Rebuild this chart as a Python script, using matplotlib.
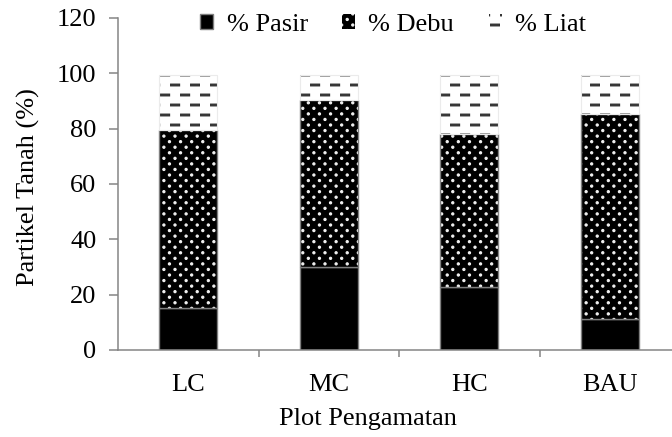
import warnings
import numpy as np
import matplotlib
matplotlib.use("Agg")
import matplotlib.pyplot as plt
from matplotlib import hatch as mhatch
from matplotlib.path import Path

warnings.filterwarnings("ignore")

# Soil particle fractions per observation plot (%)
categories = ["LC", "MC", "HC", "BAU"]
pasir = [15.3, 29.9, 22.7, 11.1]
debu = [64.2, 60.5, 55.4, 74.2]
liat = [19.9, 9.0, 21.3, 14.1]
y_ticks = [0, 20, 40, 60, 80, 100, 120]
series_labels = ["% Pasir", "% Debu", "% Liat"]


class DotLatticeHatch(mhatch.HatchPatternBase):
    """Staggered rows of small round dots ('d' hatch character)."""
    cols, rows, radius = 9, 18, 0.011

    def __init__(self, hatch, density):
        circ = Path.unit_circle()
        self._cv, self._cc = circ.vertices, circ.codes
        on = "d" in hatch
        self.num_vertices = len(self._cv) * self.cols * self.rows if on else 0

    def set_vertices_and_codes(self, vertices, codes):
        n = len(self._cv)
        i = 0
        for r in range(self.rows):
            y = (r + 0.5) / self.rows
            shift = 0.25 if r % 2 == 0 else 0.75
            for c in range(self.cols):
                x = (c + shift) / self.cols
                vertices[i:i + n] = self._cv * self.radius + (x, y)
                codes[i:i + n] = self._cc
                i += n


class DashHatch(mhatch.HatchPatternBase):
    """Staggered rows of short horizontal dashes ('m' hatch character)."""
    per_row, rows, length, half = 5, 10, 0.09, 0.009

    def __init__(self, hatch, density):
        on = "m" in hatch
        self.num_vertices = 5 * self.per_row * self.rows if on else 0

    def set_vertices_and_codes(self, vertices, codes):
        h = self.half
        i = 0
        for r in range(self.rows):
            y = (r + 0.5) / self.rows
            shift = 0.03 if r % 2 == 0 else 0.53
            for c in range(self.per_row):
                x0 = (c + shift) / self.per_row
                x1 = x0 + self.length
                vertices[i:i + 5] = [(x0, y - h), (x1, y - h), (x1, y + h),
                                     (x0, y + h), (x0, y - h)]
                codes[i:i + 5] = [Path.MOVETO, Path.LINETO, Path.LINETO,
                                  Path.LINETO, Path.CLOSEPOLY]
                i += 5


mhatch._hatch_types.extend([DotLatticeHatch, DashHatch])

plt.rcParams["font.family"] = ["Liberation Serif", "DejaVu Serif"]
plt.rcParams["hatch.linewidth"] = 0.8

FS = 19
W, H = 672, 437
fig = plt.figure(figsize=(W / 100, H / 100), dpi=100)
ax = fig.add_axes([118 / W, 87 / H, 554 / W, 332 / H])

x = np.arange(len(categories))
width = 0.41
pasir_a = np.array(pasir)
debu_a = np.array(debu)
liat_a = np.array(liat)
axis_grey = "#858585"

b1 = ax.bar(x, pasir_a, width, color="black", edgecolor="#7f7f7f",
            linewidth=1.0, label=series_labels[0])
b2 = ax.bar(x, debu_a, width, bottom=pasir_a, facecolor="black",
            edgecolor="#f2f2f2", linewidth=0, hatch="d", label=series_labels[1])
ax.bar(x, debu_a, width, bottom=pasir_a, fill=False, edgecolor="#7f7f7f",
       linewidth=1.0)
b3 = ax.bar(x, liat_a, width, bottom=pasir_a + debu_a, facecolor="white",
            edgecolor="#303030", linewidth=0, hatch="m", label=series_labels[2])
ax.bar(x, liat_a, width, bottom=pasir_a + debu_a, fill=False,
       edgecolor="#ebebeb", linewidth=0.8)

ax.set_xlim(-0.5, -0.5 + 554 / 140.5)
ax.set_ylim(0, 120)
ax.set_yticks(y_ticks)
ax.set_yticklabels([str(v) for v in y_ticks], fontsize=FS)
ax.set_xticks(x)
ax.set_xticklabels(categories, fontsize=FS)
ax.set_xticks(x[:-1] + 0.5, minor=True)

for side in ("top", "right"):
    ax.spines[side].set_visible(False)
for side in ("left", "bottom"):
    ax.spines[side].set_color(axis_grey)
    ax.spines[side].set_linewidth(1.1)

ax.tick_params(axis="y", which="major", direction="out", length=6.5,
               width=1.1, color=axis_grey, pad=9, labelcolor="black")
ax.tick_params(axis="x", which="major", length=0, pad=17, labelcolor="black")
ax.tick_params(axis="x", which="minor", direction="out", length=5,
               width=1.1, color=axis_grey)

ax.set_xlabel("Plot Pengamatan", fontsize=FS)
ax.xaxis.set_label_coords(0.451, -0.175)
ax.set_ylabel("Partikel Tanah (%)", fontsize=FS, va="center")
ax.yaxis.set_label_coords(-0.1625, 0.49)

ax.legend(handles=[b1, b2, b3], labels=series_labels, loc="center",
          bbox_to_anchor=(393 / W, 1 - 25 / H), bbox_transform=fig.transFigure,
          ncol=3, frameon=False, fontsize=FS, handlelength=0.5,
          handleheight=0.5, handletextpad=0.5, columnspacing=1.3,
          borderaxespad=0, borderpad=0)

fig.savefig("out.png", dpi=100)
